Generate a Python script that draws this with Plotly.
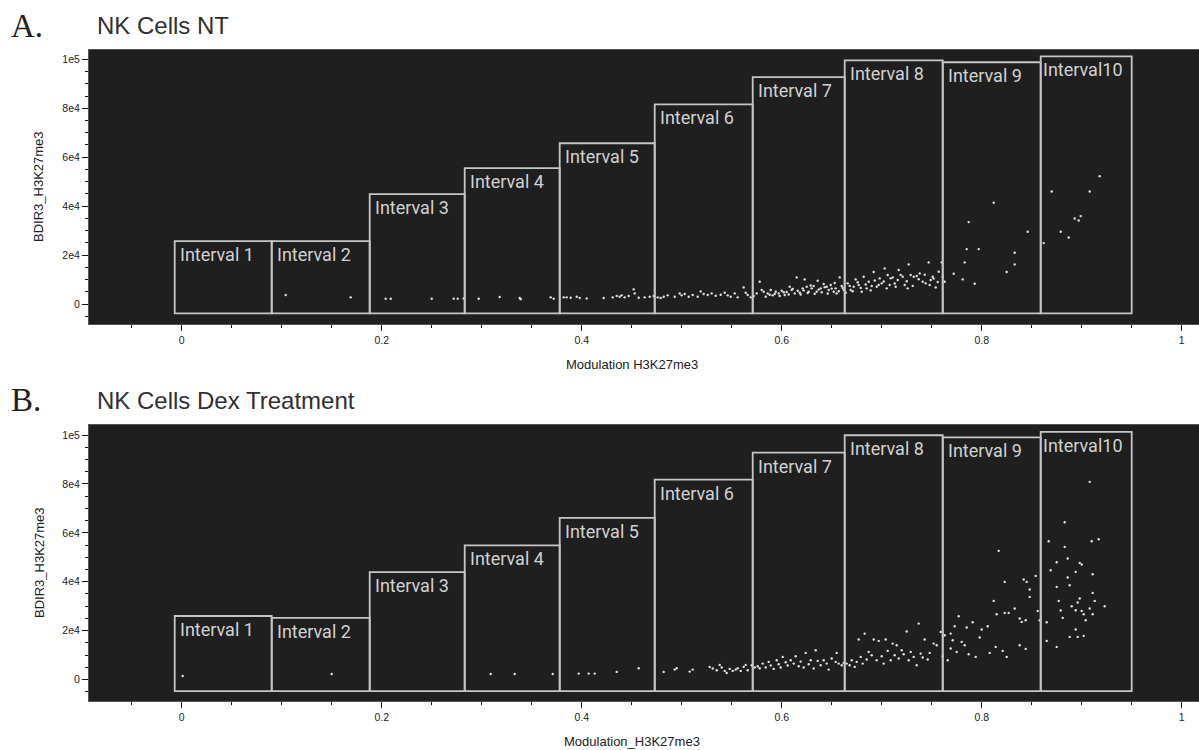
import plotly.graph_objects as go

# ---------------- data ----------------
interval_names = ["Interval 1", "Interval 2", "Interval 3", "Interval 4", "Interval 5",
                  "Interval 6", "Interval 7", "Interval 8", "Interval 9", "Interval10"]
interval_edges = [-0.007, 0.090, 0.188, 0.283, 0.378, 0.473, 0.571, 0.663, 0.761, 0.859, 0.950]
tops_nt = [25700, 25700, 44900, 55500, 65700, 81600, 92700, 99600, 98800, 101200]
tops_dex = [26000, 25200, 43900, 54900, 66100, 81800, 92800, 99900, 99000, 101300]
bottom_nt = -3800
bottom_dex = -4700

x_tick_vals = [0, 0.2, 0.4, 0.6, 0.8, 1.0]
x_tick_text = ["0", "0.2", "0.4", "0.6", "0.8", "1"]
y_tick_vals = [0, 20000, 40000, 60000, 80000, 100000]
y_tick_text = ["0", "2e4", "4e4", "6e4", "8e4", "1e5"]

nt_points = [
    (0.104, 3670), (0.169, 2730), (0.204, 2160), (0.209, 2160), (0.250, 2160), (0.272, 2200),
    (0.276, 2200), (0.282, 2300), (0.297, 2160), (0.318, 2860), (0.338, 2450), (0.339, 2000),
    (0.369, 2720), (0.372, 2200),
    (0.382, 2720), (0.385, 2720), (0.389, 2580), (0.395, 2990), (0.398, 2450), (0.405, 2310),
    (0.422, 2450), (0.431, 2720), (0.435, 3270), (0.438, 2990), (0.440, 3540), (0.443, 2720),
    (0.447, 3270), (0.452, 5990), (0.453, 4350), (0.457, 2580), (0.463, 2720), (0.468, 2990),
    (0.472, 3270), (0.476, 2720), (0.479, 2450), (0.482, 2990), (0.486, 3540),
    (0.493, 2990), (0.498, 4350), (0.500, 3540), (0.503, 4080), (0.507, 2990), (0.511, 3670),
    (0.516, 2990), (0.519, 5170), (0.522, 4080), (0.526, 3670), (0.530, 4350), (0.534, 3400),
    (0.539, 3810), (0.543, 4630), (0.546, 3540), (0.549, 2990), (0.553, 4350), (0.556, 2720),
    (0.562, 6800), (0.564, 4630), (0.566, 3670), (0.569, 2720), (0.572, 3270), (0.575, 4350),
    (0.578, 9120), (0.580, 5710), (0.582, 5030), (0.584, 2990), (0.586, 4350), (0.589, 5710),
    (0.591, 3540), (0.594, 5030), (0.597, 4350), (0.600, 5440), (0.603, 3670), (0.605, 4900),
    (0.608, 7080), (0.610, 5710), (0.613, 4350), (0.615, 10890), (0.618, 4630), (0.621, 6400),
    (0.623, 10070), (0.625, 7080), (0.627, 5030), (0.630, 6400), (0.632, 7350), (0.635, 5030),
    (0.636, 9520), (0.639, 6400), (0.642, 8160), (0.645, 7080), (0.647, 5710), (0.649, 7760),
    (0.652, 5030), (0.654, 6400), (0.655, 4350), (0.658, 10890), (0.660, 7350), (0.662, 5710),
    (0.666, 8440), (0.669, 5710), (0.672, 7080), (0.674, 10070), (0.677, 7760), (0.680, 5030),
    (0.682, 11160), (0.685, 6400), (0.687, 9120), (0.690, 7350), (0.692, 13060), (0.695, 7080),
    (0.698, 10480), (0.700, 8440), (0.703, 14560), (0.705, 6400), (0.706, 11840), (0.708, 7760),
    (0.711, 10890), (0.714, 7080), (0.716, 9800), (0.717, 13880), (0.721, 11160), (0.723, 7760),
    (0.726, 6400), (0.727, 16190), (0.729, 11840), (0.732, 11160), (0.735, 11430), (0.738, 12520),
    (0.741, 9120), (0.744, 8440), (0.747, 17010), (0.749, 9800), (0.751, 11160), (0.754, 6800),
    (0.757, 13200), (0.760, 17010), (0.761, 11160), (0.763, 9120),
    (0.588, 3800), (0.593, 4100), (0.598, 3300), (0.602, 4800), (0.607, 3900), (0.611, 6200),
    (0.616, 5400), (0.619, 3900), (0.622, 5600), (0.626, 4500), (0.629, 7600), (0.633, 4200),
    (0.637, 5900), (0.640, 4800), (0.643, 6900), (0.646, 4300), (0.650, 6300), (0.653, 8600),
    (0.657, 5200), (0.661, 6600), (0.664, 4600), (0.668, 7400), (0.671, 5200), (0.676, 8900),
    (0.679, 6600), (0.684, 8000), (0.689, 5600), (0.693, 9600), (0.697, 7800), (0.702, 9200),
    (0.709, 10500), (0.713, 8400), (0.719, 11900), (0.725, 9300), (0.731, 7400), (0.737, 10100),
    (0.743, 12000), (0.748, 7800), (0.752, 10400), (0.756, 9000),
    (0.772, 12390), (0.781, 10070), (0.783, 17010), (0.785, 22450), (0.787, 33470), (0.793, 8300),
    (0.797, 22450), (0.812, 41360), (0.825, 13060), (0.833, 16190), (0.833, 20950), (0.846, 29530),
    (0.862, 24900), (0.870, 45990), (0.879, 29530), (0.887, 27200), (0.893, 34970), (0.897, 34150),
    (0.899, 35920), (0.908, 45990), (0.918, 52250),
]

dex_points = [
    (0.001, 1470), (0.150, 2290), (0.309, 2290), (0.333, 2290), (0.371, 2290),
    (0.397, 2450), (0.407, 2450), (0.413, 2450), (0.435, 3140), (0.457, 4630),
    (0.482, 3140), (0.493, 4090), (0.495, 4630), (0.508, 3270), (0.511, 4090),
    (0.528, 5180), (0.531, 4500), (0.535, 3820), (0.538, 6000), (0.540, 4910), (0.543, 3540),
    (0.545, 2720), (0.548, 4360), (0.551, 3540), (0.554, 4090), (0.556, 4630), (0.559, 3540),
    (0.562, 5180), (0.564, 6000), (0.566, 3820),
    (0.570, 5860), (0.573, 4910), (0.576, 5450), (0.578, 4630), (0.581, 6540), (0.584, 4910),
    (0.587, 7230), (0.589, 5730), (0.592, 4360), (0.595, 7910), (0.597, 6270), (0.599, 4910),
    (0.601, 9270), (0.604, 7090), (0.606, 5730), (0.609, 7910), (0.612, 6540), (0.614, 9540),
    (0.617, 5450), (0.619, 7360), (0.622, 4910), (0.624, 10910), (0.627, 6270), (0.629, 7910),
    (0.632, 4500), (0.634, 12000), (0.636, 7640), (0.639, 5860), (0.642, 7910), (0.645, 6540),
    (0.647, 4090), (0.650, 8590), (0.654, 7230), (0.655, 10910), (0.657, 6540), (0.660, 5860),
    (0.662, 6820),
    (0.665, 6540), (0.668, 5860), (0.670, 7910), (0.673, 5180), (0.675, 7230), (0.677, 16360),
    (0.679, 9270), (0.681, 6540), (0.683, 18810), (0.685, 8180), (0.687, 11320), (0.690, 9950),
    (0.692, 16360), (0.695, 7910), (0.697, 15820), (0.700, 9540), (0.702, 6540), (0.704, 16360),
    (0.706, 11730), (0.709, 7910), (0.711, 14720), (0.713, 9950), (0.715, 14040), (0.717, 8590),
    (0.720, 12000), (0.722, 10360), (0.725, 19630), (0.727, 7910), (0.729, 11320), (0.732, 9270),
    (0.735, 5860), (0.737, 22900), (0.739, 10630), (0.741, 9000), (0.743, 16360), (0.746, 8180),
    (0.748, 10910), (0.752, 14720), (0.755, 14040), (0.759, 19500), (0.761, 9540), (0.763, 18130),
    (0.766, 7910), (0.769, 12680), (0.769, 18810), (0.771, 16090), (0.773, 21810), (0.775, 11320),
    (0.777, 25900), (0.780, 15410), (0.783, 14040), (0.785, 21270), (0.787, 10360), (0.791, 23450),
    (0.794, 9270), (0.798, 17180), (0.800, 20450), (0.806, 21810), (0.808, 10910), (0.812, 32180),
    (0.814, 13360), (0.815, 26720), (0.817, 52630), (0.821, 11730), (0.823, 39950), (0.823, 27270),
    (0.825, 9270), (0.827, 27270), (0.833, 29040), (0.838, 24950), (0.840, 23590), (0.844, 24270),
    (0.838, 14040), (0.844, 12540), (0.842, 40900), (0.845, 39950), (0.848, 36810), (0.848, 33810),
    (0.854, 42400), (0.856, 28090), (0.858, 24270),
    (0.865, 23450), (0.865, 15820), (0.867, 56580), (0.869, 44720), (0.875, 47990), (0.877, 32180),
    (0.875, 37900), (0.879, 28220), (0.881, 25220), (0.883, 64350), (0.883, 54260), (0.886, 49490),
    (0.886, 41720), (0.888, 38580), (0.888, 17450), (0.894, 20450), (0.894, 44040), (0.890, 29990),
    (0.894, 28360), (0.896, 31490), (0.898, 47720), (0.900, 47040), (0.898, 33130), (0.896, 17450),
    (0.900, 28090), (0.902, 26720), (0.902, 17860), (0.904, 24270), (0.908, 80850), (0.908, 29040),
    (0.910, 56580), (0.911, 43080), (0.911, 35450), (0.913, 32180), (0.911, 26720), (0.917, 57400),
    (0.923, 29990), (0.875, 13360),
]

# ---------------- figure ----------------
W, H = 1199, 750
PLOT_BG = "#1f1f1f"
BOX_COLOR = "#c6c6c6"
LABEL_COLOR = "#d2d2d2"
DOT_COLOR = "#e2e2e2"

fig = go.Figure()
for pts, xa, ya in [(nt_points, "x", "y"), (dex_points, "x2", "y2")]:
    xs = [p[0] for p in pts]
    ys = [p[1] for p in pts]
    fig.add_trace(go.Scatter(x=xs, y=ys, mode="markers", xaxis=xa, yaxis=ya,
                             marker=dict(size=2.4, color=DOT_COLOR, line=dict(width=0)),
                             hoverinfo="skip", showlegend=False))

shapes = []
annotations = []
for tops, bottom, xr, yr in [(tops_nt, bottom_nt, "x", "y"), (tops_dex, bottom_dex, "x2", "y2")]:
    for i, name in enumerate(interval_names):
        shapes.append(dict(type="rect", xref=xr, yref=yr,
                           x0=interval_edges[i], x1=interval_edges[i + 1], y0=bottom, y1=tops[i],
                           line=dict(color=BOX_COLOR, width=1.8), fillcolor="rgba(0,0,0,0)", layer="above"))
        annotations.append(dict(xref=xr, yref=yr, x=interval_edges[i], y=tops[i],
                                text=name, showarrow=False, xanchor="left", yanchor="top",
                                xshift=3 if i < 9 else 0, yshift=-1,
                                font=dict(family="Roboto", size=18, color=LABEL_COLOR)))

def px_x(p):
    return p / W

def px_y(p):
    return 1 - p / H

title_font = dict(family="Liberation Sans", size=24, color="#303030")
letter_font = dict(family="Liberation Serif", size=33, color="#202020")
axis_title_font = dict(family="Liberation Sans", size=13, color="#202020")

for letter, title, ytop, xtitle, ycenter, xtitle_y in [
    ("A.", "NK Cells NT", 26, "Modulation H3K27me3", 187, 364),
    ("B.", "NK Cells Dex Treatment", 400, "Modulation_H3K27me3", 563, 741),
]:
    annotations.append(dict(xref="paper", yref="paper", x=px_x(9), y=px_y(ytop),
                            text=letter, showarrow=False, xanchor="left", yanchor="middle",
                            font=letter_font))
    annotations.append(dict(xref="paper", yref="paper", x=px_x(95), y=px_y(ytop),
                            text=title, showarrow=False, xanchor="left", yanchor="middle",
                            font=title_font))
    annotations.append(dict(xref="paper", yref="paper", x=px_x(632), y=px_y(xtitle_y),
                            text=xtitle, showarrow=False, xanchor="center", yanchor="middle",
                            font=axis_title_font))
    annotations.append(dict(xref="paper", yref="paper", x=px_x(39), y=px_y(ycenter),
                            text="BDIR3_H3K27me3", showarrow=False, xanchor="center", yanchor="middle",
                            textangle=-90, font=axis_title_font))

tick_font = dict(family="Liberation Sans", size=10.5, color="#222222")

def xaxis_cfg(domain_anchor):
    return dict(range=[-0.0927, 1.0173], domain=[px_x(89), 1.0], anchor=domain_anchor,
                tickmode="array", tickvals=x_tick_vals, ticktext=x_tick_text,
                ticks="outside", ticklen=6, tickwidth=1.2, tickcolor="#111111",
                minor=dict(dtick=0.05, tick0=0, ticks="outside", ticklen=3, tickwidth=1, tickcolor="#111111"),
                showgrid=False, zeroline=False, showline=True, linecolor="#555555", linewidth=1,
                mirror=True, tickfont=tick_font, fixedrange=True)

def yaxis_cfg(rng, dom, domain_anchor):
    return dict(range=rng, domain=dom, anchor=domain_anchor,
                tickmode="array", tickvals=y_tick_vals, ticktext=y_tick_text,
                ticks="outside", ticklen=6, tickwidth=1.2, tickcolor="#111111",
                minor=dict(dtick=5000, tick0=0, ticks="outside", ticklen=3, tickwidth=1, tickcolor="#111111"),
                showgrid=False, zeroline=False, showline=True, linecolor="#555555", linewidth=1,
                mirror=True, tickfont=tick_font, fixedrange=True)

fig.update_layout(
    width=W, height=H,
    margin=dict(l=0, r=0, t=0, b=0),
    paper_bgcolor="white", plot_bgcolor=PLOT_BG,
    xaxis=xaxis_cfg("y"),
    yaxis=yaxis_cfg([-8160, 103800], [px_y(324), px_y(50)], "x"),
    xaxis2=xaxis_cfg("y2"),
    yaxis2=yaxis_cfg([-8760, 104100], [px_y(701), px_y(425)], "x2"),
    shapes=shapes, annotations=annotations, showlegend=False,
)

fig.write_html("out.html", config={"displayModeBar": False},
               post_script="document.body.style.margin='0px';document.body.style.overflow='hidden';")
